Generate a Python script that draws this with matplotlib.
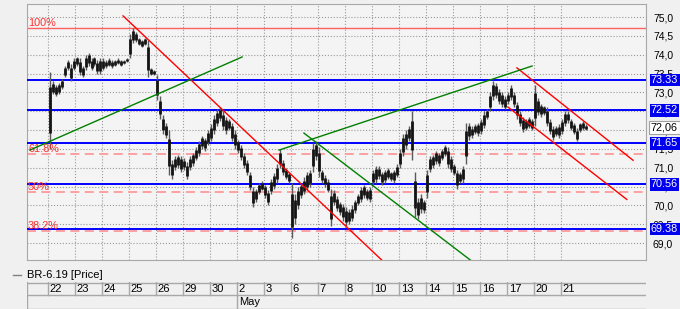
import matplotlib.pyplot as plt
from matplotlib.lines import Line2D
import numpy as np

plt.rcParams['font.family'] = ['Liberation Sans', 'DejaVu Sans']
plt.rcParams['font.size'] = 7.5

# trading days shown on the date strip
days = ['22', '23', '24', '25', '26', '29', '30', '2', '3', '6',
        '7', '8', '10', '13', '14', '15', '16', '17', '20', '21']
month_label = 'May'
month_start = 7
bars_per_day = 9

# intraday bars, 9 per day (low / high)
bar_lo = [71.5, 72.95, 72.9, 72.95, 73.1, 73.4, 73.6, 73.3, 73.6,
          73.7, 73.45, 73.4, 73.6, 73.7, 73.6, 73.7, 73.5, 73.5,
          73.6, 73.65, 73.7, 73.65, 73.7, 73.75, 73.7, 73.75, 73.8,
          73.9, 74.3, 74.35, 74.25, 74.2, 74.25, 73.4, 73.45, 73.45,
          72.8, 72.3, 71.9, 71.8, 70.8, 70.7, 70.95, 71.0, 70.9,
          70.95, 70.7, 70.95, 71.05, 71.2, 71.3, 71.5, 71.45, 71.6,
          71.7, 71.9, 72.1, 72.25, 72.0, 71.9, 72.0, 71.7, 71.5,
          71.4, 71.2, 71.0, 70.8, 70.4, 69.95, 70.1, 70.3, 70.4,
          70.2, 70.0, 70.3, 70.45, 70.6, 71.0, 70.8, 70.7, 70.6,
          69.15, 69.5, 69.9, 70.2, 70.3, 70.4, 70.5, 70.9, 71.2,
          70.75, 70.6, 70.5, 70.35, 69.45, 70.0, 69.85, 69.75, 69.6,
          69.45, 69.5, 69.6, 69.8, 70.0, 70.1, 70.2, 70.15, 70.1,
          70.55, 70.6, 70.7, 70.55, 70.6, 70.7, 70.65, 70.6, 70.75,
          71.0, 71.3, 71.5, 71.7, 71.2, 69.7, 69.65, 69.8, 69.8,
          70.2, 70.9, 71.0, 71.1, 71.05, 71.2, 71.3, 71.0, 70.9,
          70.8, 70.45, 70.6, 70.6, 71.1, 71.75, 71.8, 71.9, 71.85,
          71.9, 72.05, 72.3, 72.5, 72.8, 72.85, 72.7, 72.6, 72.55,
          72.7, 72.8, 72.6, 72.3, 72.1, 71.95, 72.0, 72.05, 72.0,
          72.1, 72.4, 72.35, 72.4, 72.1, 71.9, 71.75, 71.85, 71.8,
          71.9, 72.1, 72.2, 72.0, 71.9, 71.7, 71.95, 72.0, 72.0]
bar_hi = [73.55, 73.3, 73.2, 73.25, 73.35, 73.7, 73.85, 73.75, 73.9,
          73.95, 73.9, 73.7, 74.0, 74.05, 73.9, 73.95, 73.85, 73.9,
          73.9, 73.85, 73.9, 73.85, 73.85, 73.9, 73.85, 73.85, 73.9,
          74.55, 74.7, 74.6, 74.45, 74.4, 74.45, 74.4, 73.65, 73.6,
          73.45, 72.9, 72.4, 72.2, 72.0, 71.2, 71.3, 71.35, 71.3,
          71.25, 71.15, 71.3, 71.4, 71.55, 71.7, 71.85, 71.8, 72.0,
          72.15, 72.4, 72.55, 72.6, 72.5, 72.35, 72.3, 72.2, 72.0,
          71.75, 71.6, 71.4, 71.2, 70.9, 70.5, 70.45, 70.6, 70.65,
          70.55, 70.4, 70.7, 70.85, 71.1, 71.5, 71.2, 71.0, 70.9,
          70.6, 70.3, 70.5, 70.6, 70.75, 70.9, 70.95, 71.65, 71.7,
          71.55, 70.95, 70.8, 70.7, 70.45, 70.4, 70.25, 70.1, 70.05,
          69.95, 69.9, 70.0, 70.15, 70.3, 70.5, 70.55, 70.45, 70.5,
          70.95, 71.05, 71.05, 70.9, 70.95, 71.0, 70.9, 70.95, 71.1,
          71.5, 71.9, 72.0, 72.1, 72.5, 70.9, 70.2, 70.3, 70.15,
          70.95, 71.3, 71.35, 71.45, 71.4, 71.5, 71.6, 71.55, 71.3,
          71.1, 70.95, 70.9, 71.05, 72.2, 72.2, 72.1, 72.15, 72.2,
          72.3, 72.5, 72.55, 73.0, 73.3, 73.25, 73.1, 73.0, 72.9,
          73.0, 73.2, 73.0, 72.75, 72.5, 72.35, 72.3, 72.35, 72.3,
          73.2, 72.85, 72.7, 72.65, 72.6, 72.3, 72.1, 72.1, 72.15,
          72.3, 72.5, 72.5, 72.3, 72.2, 72.05, 72.2, 72.25, 72.15]

last_price = 72.06
levels = [73.33, 72.52, 71.65, 70.56, 69.38]
fib_high = 74.70
fib_low = 66.00
fib_ratios = [1.0, 0.618, 0.5, 0.382]
fib_labels = ['100%', '61.8%', '50%', '38.2%']

# trend lines (day, price) -> (day, price)
red_lines = [(2.78, 75.03, 12.44, 68.50),
             (17.37, 73.65, 21.67, 71.20),
             (17.04, 72.61, 21.44, 70.16)]
green_lines = [(-0.67, 71.47, 7.19, 73.94),
               (8.56, 71.47, 17.93, 73.70),
               (9.48, 71.92, 15.74, 68.50)]

W, H = 680, 309
fig = plt.figure(figsize=(W / 100, H / 100), dpi=100, facecolor='#f0f0f0')
ax = fig.add_axes([27 / W, 1 - 260 / H, 619 / W, 256 / H])
ax.set_facecolor('#f4f4f4')
xmin, xmax = -0.778, 22.15
ax.set_xlim(xmin, xmax)
ax.set_ylim(68.554, 75.345)

# grid
yt = np.arange(69.0, 75.01, 0.5)
ax.set_yticks(yt)
ax.set_yticklabels([f'{v:.1f}'.replace('.', ',') for v in yt])
ax.set_xticks(range(len(days)))
ax.set_xticklabels([])
ax.yaxis.tick_right()
ax.tick_params(axis='both', length=0)
ax.tick_params(axis='y', pad=5, labelsize=7.5)
ax.grid(True, ls=':', color='#9a9a9a', lw=0.8)
for s in ax.spines.values():
    s.set_color('#a8a8a8')

# fibonacci levels
for r, lab in zip(fib_ratios, fib_labels):
    v = fib_low + r * (fib_high - fib_low)
    if r == 1.0:
        ax.axhline(v, color='#ff6060', lw=1.0, zorder=2)
    else:
        ax.axhline(v, color='#ff9a9a', lw=1.3, ls=(0, (5, 3)), zorder=2)
    ax.text(xmin + 0.04, v + 0.05, lab, color='#ff3030', fontsize=7.8,
            va='baseline', ha='left', zorder=5)

# support/resistance
for v in levels:
    ax.axhline(v, color='#0000ff', lw=1.4, zorder=3)

# price bars
idx = np.arange(len(bar_lo))
xs = idx // bars_per_day + (idx % bars_per_day + 0.5) / bars_per_day
lo = np.array(bar_lo)
hi = np.array(bar_hi)
ax.vlines(xs, lo, hi, color='#5a5a5a', lw=1.0, zorder=4)
rng = hi - lo
ax.vlines(xs, lo + 0.2 * rng, hi - 0.2 * rng, color='#141414', lw=2.0, zorder=4)

# trend lines
for x0, y0, x1, y1 in red_lines:
    ax.plot([x0, x1], [y0, y1], color='#ff0000', lw=1.0, zorder=5)
for x0, y0, x1, y1 in green_lines:
    ax.plot([x0, x1], [y0, y1], color='#008000', lw=1.0, zorder=5)

# price labels on the right axis
ytr = ax.get_yaxis_transform()
for v in levels:
    ax.text(1.008, v, f'{v:.2f}', transform=ytr, color='white', fontsize=7.8,
            va='center', ha='left', clip_on=False, zorder=10,
            bbox=dict(boxstyle='square,pad=0.12', fc='#0000ee', ec='none'))
ax.text(1.008, last_price, f'{last_price:.2f}'.replace('.', ','), transform=ytr,
        color='black', fontsize=7.8, va='center', ha='left', clip_on=False, zorder=10,
        bbox=dict(boxstyle='square,pad=0.15', fc='white', ec='#a0a0a0', lw=0.8))

# legend
fig.add_artist(Line2D([13 / W, 21 / W], [1 - 275 / H] * 2, color='#808080', lw=1.0))
fig.text(27 / W, 1 - 275 / H, 'BR-6.19 [Price]', va='center', ha='left', fontsize=8)

# date strip
dax = fig.add_axes([27 / W, 0, 619 / W, 27 / H])
dax.set_xlim(xmin, xmax)
dax.set_ylim(0, 27)
dax.axis('off')
lc = '#a8a8a8'
for yy in (26.5, 14, 0.5):
    dax.plot([xmin, xmax], [yy, yy], color=lc, lw=1.0)
dax.plot([xmin + 0.01, xmin + 0.01], [0, 27], color=lc, lw=1.0)
for i, d in enumerate(days):
    dax.plot([i, i], [14, 27], color=lc, lw=1.0)
    dax.text(i + 0.07, 20, d, va='center', ha='left', fontsize=8)
dax.plot([month_start, month_start], [0, 14], color=lc, lw=1.0)
dax.text(month_start + 0.07, 7, month_label, va='center', ha='left', fontsize=8)

fig.savefig('out.png', dpi=100, facecolor=fig.get_facecolor())
